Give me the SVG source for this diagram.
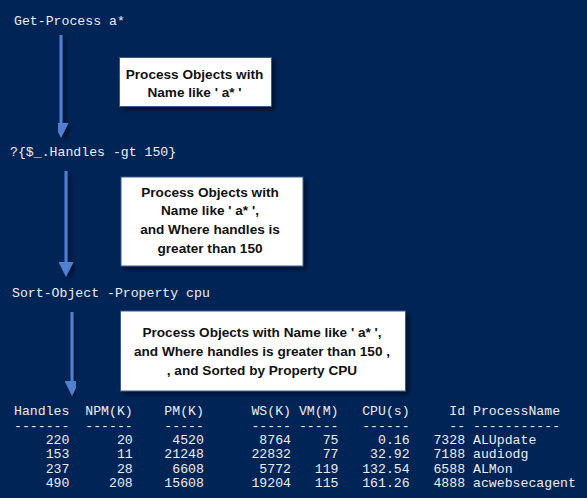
<svg xmlns="http://www.w3.org/2000/svg" width="587" height="498" viewBox="0 0 587 498">
<style>
.bg{fill:#012456}
.cmd{font-family:"Liberation Mono","DejaVu Sans Mono",monospace;font-size:13.2px;fill:#eeedf0;white-space:pre}
.box{fill:#ffffff;stroke:#3a5a8c;stroke-width:1}
.lbl{font-family:"Liberation Sans",Arial,sans-serif;font-weight:bold;font-size:13.6px;fill:#111111;text-anchor:middle}
.arrow{stroke:#4f81d0;stroke-width:3;fill:none}
</style>
<defs>
<filter id="sh" x="-20%" y="-20%" width="150%" height="150%">
<feDropShadow dx="3" dy="3" stdDeviation="2" flood-color="#000010" flood-opacity="0.55"/>
</filter>
<marker id="head" viewBox="0 0 15 15" refX="0" refY="7.5" markerWidth="15" markerHeight="15" markerUnits="userSpaceOnUse" orient="auto">
<path d="M0,0 L15,7.5 L0,15 z" fill="#4f81d0"/>
</marker>
</defs>
<rect class="bg" x="0" y="0" width="587" height="498"/>

<g id="cmd-get-process">
<text class="cmd" x="14" y="24.5">Get-Process a*</text>
</g>
<g id="cmd-where">
<text class="cmd" x="10" y="156">?{$_.Handles -gt 150}</text>
</g>
<g id="cmd-sort">
<text class="cmd" x="12" y="297">Sort-Object -Property cpu</text>
</g>

<g id="connectors" filter="url(#sh)">
<line class="arrow" x1="61" y1="35" x2="61" y2="123" marker-end="url(#head)"/>
<line class="arrow" x1="66" y1="171" x2="66" y2="262" marker-end="url(#head)"/>
<line class="arrow" x1="72" y1="312" x2="72" y2="381" marker-end="url(#head)"/>
</g>

<g id="note-1">
<rect class="box" x="119.5" y="57.5" width="152" height="49" filter="url(#sh)"/>
<text class="lbl" x="194.5" y="79">Process Objects with</text>
<text class="lbl" x="194.5" y="97">Name like ' a* '</text>
</g>

<g id="note-2">
<rect class="box" x="121" y="177" width="182" height="89" filter="url(#sh)"/>
<text class="lbl" x="210" y="196.5">Process Objects with</text>
<text class="lbl" x="210" y="215">Name like ' a* ',</text>
<text class="lbl" x="210" y="234">and Where handles is</text>
<text class="lbl" x="210" y="252.5">greater than 150</text>
</g>

<g id="note-3">
<rect class="box" x="120.5" y="311" width="285" height="80" filter="url(#sh)"/>
<text class="lbl" x="262" y="337">Process Objects with Name like ' a* ',</text>
<text class="lbl" x="262" y="355.5">and Where handles is greater than 150 ,</text>
<text class="lbl" x="262" y="375">, and Sorted by Property CPU</text>
</g>

<g id="output-table">
<text class="cmd" x="14" y="415.2">Handles  NPM(K)    PM(K)      WS(K) VM(M)   CPU(s)     Id ProcessName</text>
<text class="cmd" x="14" y="429.6">-------  ------    -----      ----- -----   ------     -- -----------</text>
<text class="cmd" x="14" y="444">    220      20     4520       8764    75     0.16   7328 ALUpdate</text>
<text class="cmd" x="14" y="458.4">    153      11    21248      22832    77    32.92   7188 audiodg</text>
<text class="cmd" x="14" y="472.8">    237      28     6608       5772   119   132.54   6588 ALMon</text>
<text class="cmd" x="14" y="487.2">    490     208    15608      19204   115   161.26   4888 acwebsecagent</text>
</g>
</svg>
